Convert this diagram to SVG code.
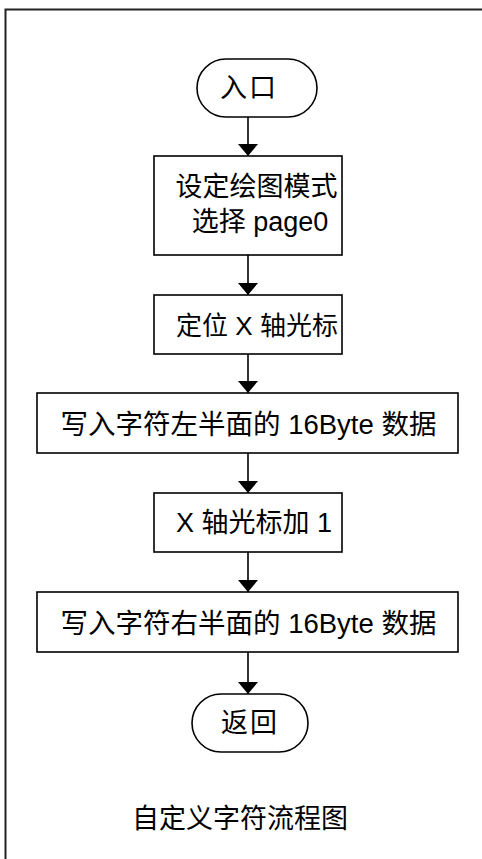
<svg xmlns="http://www.w3.org/2000/svg" width="482" height="859" viewBox="0 0 482 859">
<style>
.box{fill:#fff;stroke:#000;stroke-width:1.6}
.ln{stroke:#000;stroke-width:1.6;fill:none}
text{font-family:"Liberation Sans","Noto Sans CJK SC",sans-serif;font-size:27px;fill:#000;text-anchor:middle}
.wide{font-size:27.5px}
.narrow{font-size:26px}
</style>
<defs>
<marker id="ar" markerWidth="12" markerHeight="20" refX="12" refY="10" orient="auto" markerUnits="userSpaceOnUse" viewBox="0 0 12 20">
<path d="M0,0 L12,10 L0,20 Z" fill="#000"/>
</marker>
</defs>
<rect x="5.5" y="9.5" width="520" height="900" fill="#fff" stroke="#222" stroke-width="2"/>
<g id="connectors">
<line class="ln" x1="248" y1="117" x2="248" y2="156" marker-end="url(#ar)"/>
<line class="ln" x1="248" y1="255" x2="248" y2="295" marker-end="url(#ar)"/>
<line class="ln" x1="248" y1="354" x2="248" y2="393" marker-end="url(#ar)"/>
<line class="ln" x1="248" y1="453" x2="248" y2="493" marker-end="url(#ar)"/>
<line class="ln" x1="248" y1="552" x2="248" y2="592" marker-end="url(#ar)"/>
<line class="ln" x1="248" y1="652" x2="248" y2="694" marker-end="url(#ar)"/>
</g>
<g id="start">
<rect class="box" x="197" y="59" width="120" height="58" rx="29" ry="29"/>
<text x="249" y="97" letter-spacing="2">入口</text>
</g>
<g id="step1">
<rect class="box" x="154" y="156" width="188" height="99"/>
<text x="256.5" y="196">设定绘图模式</text>
<text x="260" y="231">选择 page0</text>
</g>
<g id="step2">
<rect class="box" x="154" y="295" width="188" height="59"/>
<text class="narrow" x="257" y="335">定位 X 轴光标</text>
</g>
<g id="step3">
<rect class="box" x="37" y="393" width="421" height="60"/>
<text class="wide" x="248.5" y="434">写入字符左半面的 16Byte 数据</text>
</g>
<g id="step4">
<rect class="box" x="154" y="493" width="188" height="59"/>
<text x="254" y="532">X 轴光标加 1</text>
</g>
<g id="step5">
<rect class="box" x="37" y="592" width="421" height="60"/>
<text class="wide" x="248.5" y="633">写入字符右半面的 16Byte 数据</text>
</g>
<g id="end">
<rect class="box" x="192" y="694" width="116" height="58" rx="29" ry="29"/>
<text x="250" y="732" letter-spacing="2">返回</text>
</g>
<text x="240" y="828">自定义字符流程图</text>
</svg>
